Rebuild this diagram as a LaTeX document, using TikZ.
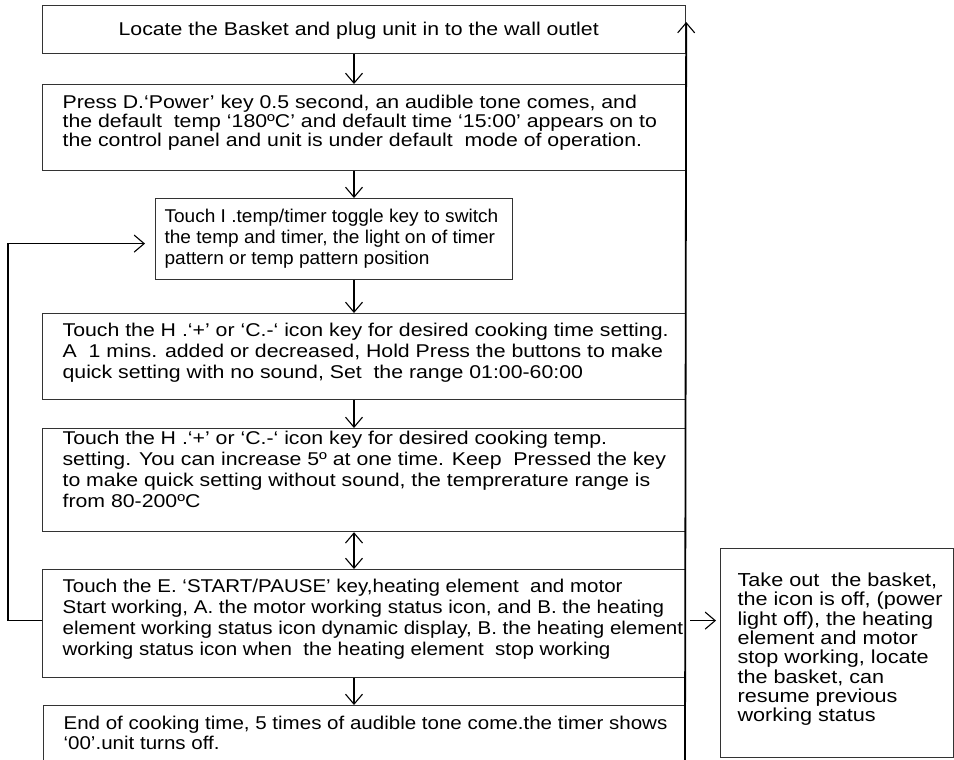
\documentclass[tikz,border=0pt]{standalone}
\usepackage{fontspec}
\setmainfont{Liberation Sans}[FakeStretch=1.15]
\newfontfamily\narrowA{Liberation Sans}[FakeStretch=1.11]
\newfontfamily\narrowB{Liberation Sans}[FakeStretch=1.03]
\usetikzlibrary{arrows.meta}
\definecolor{boxgray}{HTML}{333333}
\newcommand\bxt[5]{\parbox[c][#1][t]{#2}{\raggedright\leftskip=#3\relax\rightskip=-200pt plus 1fil\relax\rule{0pt}{#4}\ignorespaces#5}}
\begin{document}
\begin{tikzpicture}[x=1pt,y=-1pt,
  box/.style={draw=boxgray, line width=1.2pt, inner sep=0pt, anchor=north west,
    font=\fontsize{18.5pt}{21pt}\selectfont},
  arr/.style={draw=black, line width=1.1pt, -{Straight Barb[length=10pt,width=17pt,line width=1.1pt]}},
  darr/.style={draw=black, line width=1.1pt, {Straight Barb[length=10pt,width=17pt,line width=1.1pt]}-{Straight Barb[length=10pt,width=17pt,line width=1.1pt]}}]
\useasboundingbox (0,0) rectangle (954,760);
\clip (0,0) rectangle (954,760);
\node[box] (b1) at (42,5) {\bxt{48pt}{643pt}{76pt}{30pt}{Locate the Basket and plug unit in to the wall outlet}};
\node[box] (b2) at (42,84) {\bxt{86pt}{643pt}{20pt}{24pt}{\baselineskip=19pt Press D.‘Power’ key 0.5 second, an audible tone comes, and\\
the default \ temp ‘180ºC’ and default time ‘15:00’ appears on to\\
the control panel and unit is under default \ mode of operation.}};
\node[box, font=\narrowB\fontsize{18.5pt}{21pt}\selectfont] (b3) at (155,198) {\bxt{81pt}{357pt}{9pt}{24pt}{Touch I .temp/timer toggle key to switch\\
the temp and timer, the light on of timer\\
pattern or temp pattern position}};
\node[box] (b4) at (42,313) {\bxt{86pt}{643pt}{20pt}{23pt}{Touch the H .‘+’ or ‘C.-‘ icon key for desired cooking time setting.\\
A \ 1 mins. added or decreased, Hold Press the buttons to make\\
quick setting with no sound, Set \ the range 01:00-60:00}};
\node[box] (b5) at (42,428) {\bxt{103pt}{643pt}{20pt}{16pt}{Touch the H .‘+’ or ‘C.-‘ icon key for desired cooking temp.\\
setting. You can increase 5º at one time. Keep \ Pressed the key\\
to make quick setting without sound, the temprerature range is\\
from 80-200ºC}};
\node[box, font=\narrowA\fontsize{18.5pt}{21pt}\selectfont] (b6) at (42,569) {\bxt{108pt}{643pt}{20pt}{23pt}{Touch the E. ‘START/PAUSE’ key,heating element \ and motor\\
Start working, A. the motor working status icon, and B. the heating\\
element working status icon dynamic display, B. the heating element\\
working status icon when \ the heating element \ stop working}};
\node[box, font=\narrowA\fontsize{18.5pt}{20pt}\selectfont] (b7) at (43,705) {\bxt{70pt}{642pt}{20pt}{24pt}{End of cooking time, 5 times of audible tone come.the timer shows\\
‘00’.unit turns off.}};
\node[box, font=\fontsize{18.8pt}{19.3pt}\selectfont] (r) at (720,548) {\bxt{209pt}{233pt}{17pt}{38pt}{Take out \ the basket,\\
the icon is off, (power\\
light off), the heating\\
element and motor\\
stop working, locate\\
the basket, can\\
resume previous\\
working status}};
\coordinate (ax) at (354,0);
\coordinate (bot) at (685,760);
\draw[arr] (b1.south -| ax) -- (b2.north -| ax);
\draw[arr] (b2.south -| ax) -- (b3.north -| ax);
\draw[arr] (b3.south -| ax) -- (b4.north -| ax);
\draw[arr] (b4.south -| ax) -- (b5.north -| ax);
\draw[darr] (b5.south -| ax) -- (b6.north -| ax);
\draw[arr] (b6.south -| ax) -- (b7.north -| ax);
\draw[arr, shorten >=10pt] ([yshift=3pt]b6.west) -- ++(-34,0) |- ([yshift=-4.5pt]b3.west);
\draw[arr, shorten <=4pt, shorten >=4pt] ([yshift=3pt]b6.east) -- ([yshift=3pt]b6.east -| r.west);
\draw[arr, line width=1.8pt] (bot) -- ([yshift=-17pt]b1.north east);
\end{tikzpicture}
\end{document}
